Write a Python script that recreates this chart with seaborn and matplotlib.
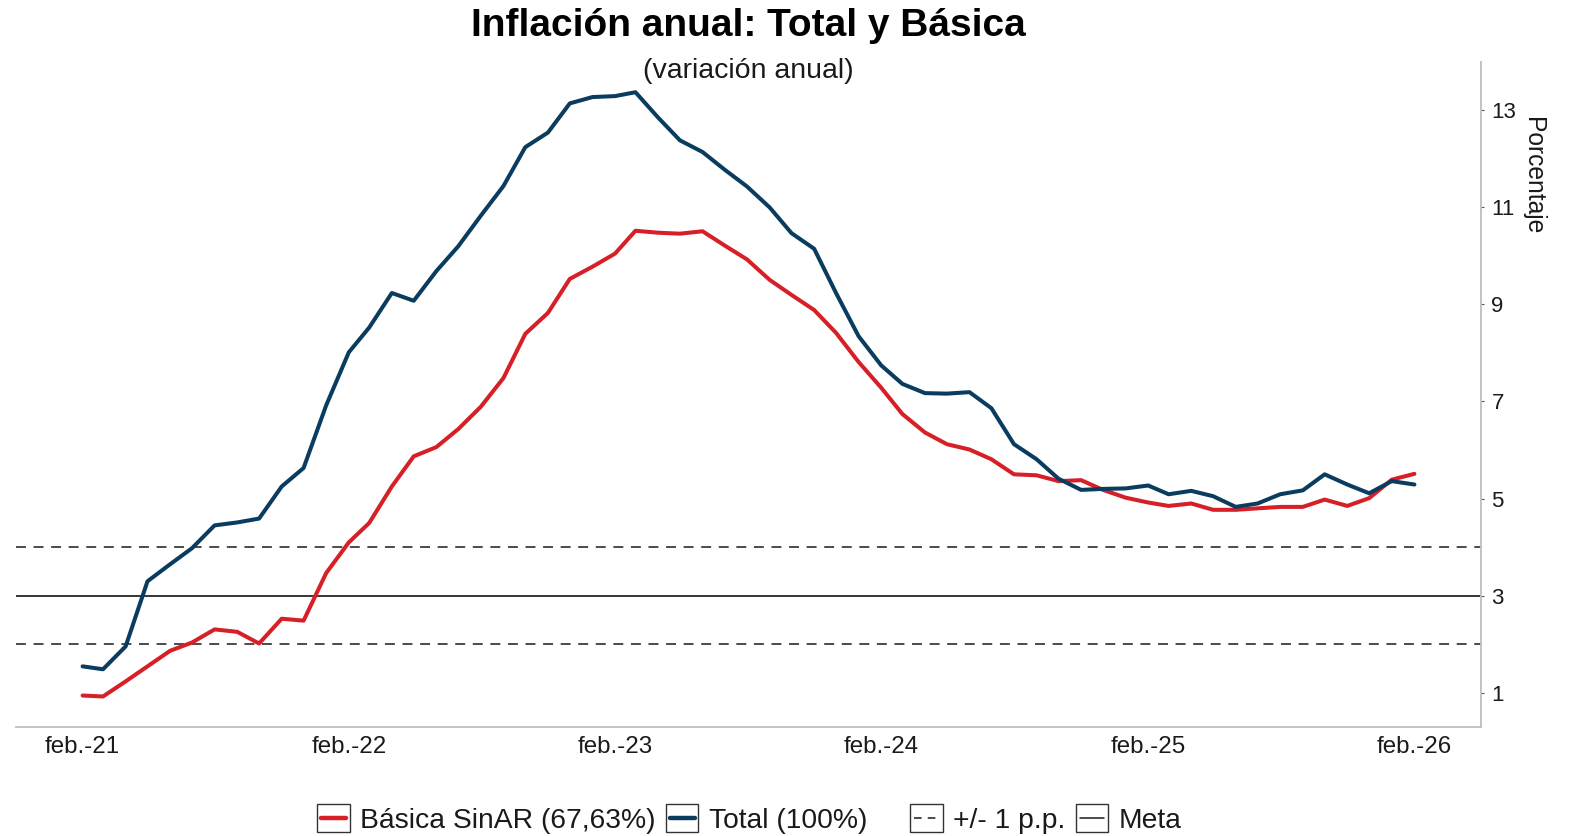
import numpy as np
import pandas as pd
import matplotlib
matplotlib.use("Agg")
import matplotlib.pyplot as plt
import matplotlib.dates as mdates
from matplotlib.legend_handler import HandlerBase
from matplotlib.patches import Rectangle
from matplotlib.lines import Line2D
import seaborn as sns

# ---------------- data ----------------
start_month = "2021-02-01"
n_months = 61
total = [1.55, 1.49, 1.96, 3.30, 3.65, 3.98, 4.45, 4.51, 4.59, 5.25,
         5.63, 6.92, 8.01, 8.52, 9.23, 9.07, 9.68, 10.19, 10.82, 11.43,
         12.23, 12.53, 13.13, 13.26, 13.28, 13.36, 12.84, 12.37, 12.13, 11.77,
         11.42, 10.99, 10.46, 10.14, 9.23, 8.34, 7.74, 7.36, 7.17, 7.16,
         7.19, 6.86, 6.12, 5.81, 5.41, 5.18, 5.20, 5.21, 5.27, 5.09,
         5.16, 5.05, 4.83, 4.90, 5.09, 5.17, 5.50, 5.29, 5.11, 5.36,
         5.29]
basica = [0.95, 0.93, 1.24, 1.55, 1.87, 2.04, 2.31, 2.26, 2.02, 2.53,
          2.49, 3.47, 4.10, 4.50, 5.25, 5.87, 6.06, 6.43, 6.89, 7.48,
          8.39, 8.82, 9.52, 9.77, 10.04, 10.51, 10.47, 10.45, 10.50, 10.21,
          9.92, 9.50, 9.19, 8.88, 8.41, 7.81, 7.28, 6.74, 6.36, 6.12,
          6.01, 5.81, 5.50, 5.48, 5.36, 5.38, 5.18, 5.02, 4.92, 4.85,
          4.90, 4.77, 4.77, 4.80, 4.83, 4.83, 4.98, 4.85, 5.01, 5.39,
          5.51]
series_names = ["Básica SinAR (67,63%)", "Total (100%)"]
series_colors = ["#D61F26", "#0A3C5F"]
meta = 3
band = [2, 4]
ref_names = ["+/- 1 p.p.", "Meta"]
xtick_dates = ["2021-02-01", "2022-02-01", "2023-02-01", "2024-02-01", "2025-02-01", "2026-02-01"]
xtick_labels = ["feb.-21", "feb.-22", "feb.-23", "feb.-24", "feb.-25", "feb.-26"]
yticks = [1, 3, 5, 7, 9, 11, 13]
title = "Inflación anual: Total y Básica"
subtitle = "(variación anual)"
ylabel = "Porcentaje"

dates = pd.date_range(start_month, periods=n_months, freq="MS")
df = pd.DataFrame({
    "fecha": np.concatenate([dates, dates]),
    "valor": basica + total,
    "serie": [series_names[0]] * n_months + [series_names[1]] * n_months,
})

# ---------------- style ----------------
sns.set_style("white")
plt.rcParams["font.family"] = ["Liberation Sans", "DejaVu Sans"]

W, H = 1575, 836
fig = plt.figure(figsize=(W / 100, H / 100), dpi=100)
L, R, T, B = 16, 1481, 62, 726.7
ax = fig.add_axes([L / W, 1 - B / H, (R - L) / W, (B - T) / H])

# reference lines
ax.axhline(meta, color="black", lw=1.1, zorder=1)
for b in band:
    ax.axhline(b, color="#1a1a1a", lw=1.1, ls=(0, (6.5, 5)), zorder=1)

sns.lineplot(data=df, x="fecha", y="valor", hue="serie",
             palette=dict(zip(series_names, series_colors)),
             lw=2.9, ax=ax, legend=False, zorder=3)

# axes limits (ggplot-like 5% expansion)
x0, x1 = mdates.date2num(dates[0]), mdates.date2num(dates[-1])
dx = 0.05 * (x1 - x0)
ax.set_xlim(x0 - dx, x1 + dx)
allv = basica + total
ymin, ymax = min(allv), max(allv)
dy = 0.05 * (ymax - ymin)
ax.set_ylim(ymin - dy, ymax + dy)

ax.set_xticks([mdates.date2num(pd.Timestamp(d)) for d in xtick_dates])
ax.set_xticklabels(xtick_labels, fontsize=17.4, color="#1a1a1a")
ax.set_yticks(yticks)
ax.set_yticklabels([str(v) for v in yticks], fontsize=16, color="#1a1a1a")
ax.yaxis.tick_right()
ax.set_xlabel("")
ax.set_ylabel("")

for s in ["top", "left"]:
    ax.spines[s].set_visible(False)
for s in ["bottom", "right"]:
    ax.spines[s].set_visible(True)
    ax.spines[s].set_color("#BEBEBE")
    ax.spines[s].set_linewidth(1.3)
ax.tick_params(axis="x", length=2.5, width=0.8, color="#BEBEBE", pad=4)
ax.tick_params(axis="y", length=2.5, width=0.8, color="#555555", pad=5,
               left=False, right=True, labelleft=False, labelright=True)
ax.grid(False)

fig.text(1533 / W, 1 - 117 / H, ylabel, rotation=270, ha="center", va="top",
         fontsize=17.7, color="#1a1a1a")

# titles
cx = (L + R) / 2 / W
fig.text(cx, 1 - 36.5 / H, title, ha="center", va="baseline",
         fontsize=28, fontweight="bold", color="black")
fig.text(cx, 1 - 77.5 / H, subtitle, ha="center", va="baseline",
         fontsize=20.5, color="#1a1a1a")


# legend with ggplot-like boxed keys
class BoxLineHandler(HandlerBase):
    def create_artists(self, legend, orig_handle, xdescent, ydescent,
                       width, height, fontsize, trans):
        rect = Rectangle((-xdescent, -ydescent), width, height, fill=False,
                         edgecolor="#333333", lw=1.0, transform=trans)
        y = -ydescent + height / 2
        ln = Line2D([-xdescent + 0.12 * width, -xdescent + 0.88 * width], [y, y],
                    color=orig_handle.get_color(), lw=orig_handle.get_linewidth(),
                    transform=trans)
        if orig_handle.get_linestyle() == "--":
            ln.set_dashes((5, 4))
        return [rect, ln]


h1 = [Line2D([], [], color=c, lw=3.2) for c in series_colors]
h2 = [Line2D([], [], color="#1a1a1a", lw=1.1, ls="--"),
      Line2D([], [], color="#1a1a1a", lw=1.1, ls="-")]
fs = 20.3
common = dict(frameon=False, fontsize=fs, handlelength=1.16, handleheight=1.12,
              handletextpad=0.36, columnspacing=0.37, borderpad=0, borderaxespad=0,
              loc="center left", ncol=2, handler_map={Line2D: BoxLineHandler()})
leg1 = fig.legend(h1, series_names, bbox_to_anchor=(317 / W, 1 - 819 / H), **common)
leg2 = fig.legend(h2, ref_names, bbox_to_anchor=(910 / W, 1 - 819 / H), **common)
for lg in (leg1, leg2):
    for t in lg.get_texts():
        t.set_color("#1a1a1a")

fig.savefig("out.png", dpi=100)
